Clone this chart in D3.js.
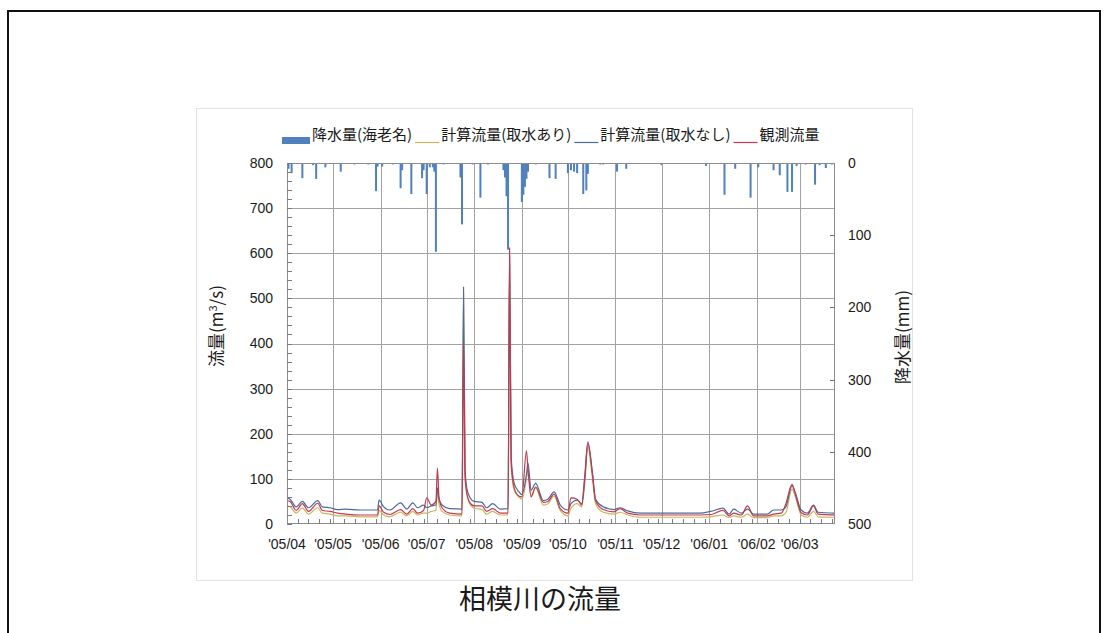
<!DOCTYPE html>
<html>
<head>
<meta charset="utf-8">
<script src="https://cdn.jsdelivr.net/npm/d3@7"></script>
<style>
  html, body { margin: 0; padding: 0; background: #fff; }
  svg { display: block; }
  text { font-family: "Liberation Sans", Arial, "Noto Sans CJK JP", sans-serif; fill: #1a1a1a; }
  .jp { font-family: "Noto Sans CJK JP", "Liberation Sans", sans-serif; }
</style>
</head>
<body>
<svg id="chart" width="1108" height="633"></svg>
<script>
// Daily rainfall at Ebina (mm), only days with rain shown
const rainDates = [
  "2005-04-02","2005-04-04","2005-04-11","2005-04-18","2005-04-20","2005-04-26",
  "2005-05-06","2005-05-15","2005-05-24","2005-05-29","2005-05-30",
  "2005-06-02","2005-06-09","2005-06-14","2005-06-15","2005-06-21","2005-06-28","2005-06-29",
  "2005-07-01","2005-07-03","2005-07-05","2005-07-06","2005-07-07","2005-07-12","2005-07-23","2005-07-24","2005-07-31",
  "2005-08-05","2005-08-10","2005-08-20","2005-08-21","2005-08-22","2005-08-23",
  "2005-09-01","2005-09-02","2005-09-03","2005-09-04","2005-09-05","2005-09-10","2005-09-19","2005-09-23",
  "2005-10-01","2005-10-03","2005-10-05","2005-10-07","2005-10-11","2005-10-13","2005-10-14","2005-10-22","2005-10-24",
  "2005-11-02","2005-11-08","2005-12-01","2005-12-30",
  "2006-01-11","2006-01-18","2006-01-28",
  "2006-02-02","2006-02-12","2006-02-16","2006-02-21","2006-02-24","2006-02-27",
  "2006-03-05","2006-03-11","2006-03-14","2006-03-18","2006-03-22"
];
const rainValues = [
  8, 14, 21, 3, 22, 6,
  12, 2, 2, 39, 5,
  5, 2, 35, 10, 43, 21, 10,
  43, 6, 6, 12, 123, 2, 20, 85, 2,
  48, 2, 10, 20, 46, 120,
  54, 44, 33, 22, 12, 2, 21, 22,
  14, 10, 12, 14, 43, 38, 15, 2, 2,
  12, 8, 3, 4,
  44, 8, 48,
  6, 10, 17, 40, 40, 4,
  2, 30, 3, 7, 2
];

// River discharge of the Sagami (m3/s)
const flowDates = [
  "2005-04-01","2005-04-03","2005-04-07","2005-04-11","2005-04-15","2005-04-21","2005-04-24","2005-04-29",
  "2005-05-04","2005-05-09","2005-05-19","2005-05-30","2005-05-31",
  "2005-06-03","2005-06-07","2005-06-14","2005-06-18","2005-06-22","2005-06-25","2005-06-29",
  "2005-07-01","2005-07-04","2005-07-07","2005-07-08","2005-07-09","2005-07-11","2005-07-16","2005-07-24","2005-07-25","2005-07-26","2005-07-27","2005-07-29",
  "2005-08-01","2005-08-06","2005-08-09","2005-08-13","2005-08-18","2005-08-23","2005-08-24","2005-08-25","2005-08-27","2005-08-30",
  "2005-09-01","2005-09-04","2005-09-05","2005-09-07","2005-09-10","2005-09-15","2005-09-18","2005-09-22","2005-09-26",
  "2005-10-01","2005-10-03","2005-10-07","2005-10-10","2005-10-12","2005-10-14","2005-10-17","2005-10-19","2005-10-24","2005-10-31",
  "2005-11-04","2005-11-09","2005-11-17","2005-12-26",
  "2006-01-02","2006-01-10","2006-01-14","2006-01-17","2006-01-22","2006-01-26","2006-01-30",
  "2006-02-08","2006-02-12","2006-02-17","2006-02-20","2006-02-24","2006-02-26",
  "2006-03-02","2006-03-06","2006-03-10","2006-03-13","2006-03-24"
];
// computed flow, with water intake
const flowWithIntake = [
  40, 38, 24, 35, 22, 36, 24, 22,
  18, 18, 16, 16, 30,
  20, 16, 26, 18, 28, 20, 24,
  24, 28, 30, 72, 45, 28, 20, 18, 510, 110, 68, 45,
  35, 32, 22, 28, 20, 20, 575, 130, 75, 60,
  55, 100, 125, 62, 80, 42, 45, 62, 30,
  18, 35, 45, 38, 90, 170, 100, 45, 26, 22,
  26, 20, 15, 15,
  16, 20, 14, 18, 15, 22, 14,
  14, 18, 18, 25, 78, 62,
  20, 15, 28, 16, 15
];
// computed flow, without water intake
const flowNoIntake = [
  58, 55, 38, 50, 36, 52, 38, 36,
  32, 33, 31, 31, 53,
  38, 31, 47, 33, 47, 36, 42,
  36, 40, 42, 80, 55, 42, 34, 33, 525, 125, 82, 60,
  50, 48, 36, 45, 33, 34, 595, 150, 90, 72,
  65, 110, 135, 75, 90, 52, 55, 71, 42,
  31, 45, 53, 45, 100, 178, 113, 55, 38, 32,
  36, 29, 24, 24,
  28, 35, 22, 33, 24, 33, 22,
  22, 31, 31, 38, 85, 71,
  31, 24, 42, 26, 24
];
// observed flow
const flowObserved = [
  52, 50, 30, 45, 28, 46, 30, 28,
  24, 22, 20, 20, 40,
  26, 21, 32, 22, 34, 24, 30,
  58, 42, 50, 124, 60, 36, 24, 22, 400, 105, 72, 48,
  40, 40, 28, 34, 24, 24, 612, 140, 80, 62,
  60, 162, 120, 60, 82, 48, 50, 66, 34,
  24, 58, 55, 42, 108, 182, 110, 52, 32, 27,
  34, 24, 20, 20,
  21, 30, 18, 24, 20, 40, 18,
  18, 22, 24, 45, 88, 68,
  25, 20, 40, 22, 20
];

const flowTicks = [0, 100, 200, 300, 400, 500, 600, 700, 800];
const rainTicks = [0, 100, 200, 300, 400, 500];
const monthTicks = ["2005-04-01","2005-05-01","2005-06-01","2005-07-01","2005-08-01","2005-09-01",
                    "2005-10-01","2005-11-01","2005-12-01","2006-01-01","2006-02-01","2006-03-01"];
const monthLabels = ["'05/04","'05/05","'05/06","'05/07","'05/08","'05/09",
                     "'05/10","'05/11","'05/12","'06/01","'06/02","'06/03"];

const legendItems = [
  { key: "rain", label: "降水量(海老名)" },
  { key: "with", label: "計算流量(取水あり)" },
  { key: "without", label: "計算流量(取水なし)" },
  { key: "obs", label: "観測流量" }
];

const colors = { rain: "#4f81bd", with: "#cdb45e", without: "#4a6b9c", obs: "#c23a4e" };

const parse = d3.timeParse("%Y-%m-%d");
const svg = d3.select("#chart");

// frame around the page and the chart panel
svg.append("rect").attr("x", 8).attr("y", 11).attr("width", 1092).attr("height", 640)
  .attr("fill", "none").attr("stroke", "#111").attr("stroke-width", 2);
svg.append("rect").attr("x", 196.5).attr("y", 108.5).attr("width", 716).attr("height", 472)
  .attr("fill", "#fff").attr("stroke", "#e2e2e2").attr("stroke-width", 1);

const plot = { left: 287, right: 835, top: 163, bottom: 524 };

const x = d3.scaleTime()
  .domain([parse("2005-04-01"), parse("2006-03-24")])
  .range([plot.left, plot.right]);
const yFlow = d3.scaleLinear().domain([0, 800]).range([plot.bottom, plot.top]);
const yRain = d3.scaleLinear().domain([0, 500]).range([plot.top, plot.bottom]);

// gridlines
const grid = svg.append("g");
grid.selectAll("line.h").data(flowTicks.slice(1, -1)).join("line")
  .attr("x1", plot.left).attr("x2", plot.right)
  .attr("y1", d => Math.round(yFlow(d)) + 0.5).attr("y2", d => Math.round(yFlow(d)) + 0.5)
  .attr("stroke", "#a3a3a3").attr("stroke-width", 1);
grid.selectAll("line.v").data(monthTicks.slice(1)).join("line")
  .attr("x1", d => Math.round(x(parse(d))) + 0.5).attr("x2", d => Math.round(x(parse(d))) + 0.5)
  .attr("y1", plot.top).attr("y2", plot.bottom)
  .attr("stroke", "#a3a3a3").attr("stroke-width", 1);

// clip for data marks
svg.append("clipPath").attr("id", "plotClip").append("rect")
  .attr("x", plot.left).attr("y", plot.top)
  .attr("width", plot.right - plot.left).attr("height", plot.bottom - plot.top);

// rainfall bars hanging from the top
const dayW = x(parse("2005-04-02")) - x(parse("2005-04-01"));
svg.append("g").attr("clip-path", "url(#plotClip)")
  .selectAll("rect").data(rainDates.map((d, i) => ({ date: parse(d), v: rainValues[i] }))).join("rect")
  .attr("x", d => x(d.date) - 1)
  .attr("y", plot.top)
  .attr("width", Math.max(2, dayW))
  .attr("height", d => yRain(d.v) - plot.top)
  .attr("fill", colors.rain);

// flow lines
const line = d3.line().x(d => x(d.date)).y(d => yFlow(d.v)).curve(d3.curveMonotoneX);
const series = [
  { key: "with", values: flowWithIntake },
  { key: "without", values: flowNoIntake },
  { key: "obs", values: flowObserved }
];
const lines = svg.append("g").attr("clip-path", "url(#plotClip)");
series.forEach(s => {
  lines.append("path")
    .datum(flowDates.map((d, i) => ({ date: parse(d), v: s.values[i] })))
    .attr("d", line)
    .attr("fill", "none")
    .attr("stroke", colors[s.key])
    .attr("stroke-width", 1.2)
    .attr("stroke-linejoin", "round");
});

// plot frame
svg.append("rect").attr("x", plot.left + 0.5).attr("y", plot.top + 0.5)
  .attr("width", plot.right - plot.left - 1).attr("height", plot.bottom - plot.top - 1)
  .attr("fill", "none").attr("stroke", "#8c8c8c").attr("stroke-width", 1);

// left axis: labels and inward minor ticks
const yAxisL = svg.append("g");
yAxisL.selectAll("line").data(d3.range(0, 801, 20)).join("line")
  .attr("x1", plot.left).attr("x2", plot.left + 5)
  .attr("y1", d => Math.round(yFlow(d)) + 0.5).attr("y2", d => Math.round(yFlow(d)) + 0.5)
  .attr("stroke", "#7a7a7a");
yAxisL.selectAll("text").data(flowTicks).join("text")
  .attr("x", 273).attr("y", d => yFlow(d)).attr("dy", "0.35em")
  .attr("text-anchor", "end").attr("font-size", 14).text(d => d);

// right axis
const yAxisR = svg.append("g");
yAxisR.selectAll("line").data(rainTicks.slice(1, -1)).join("line")
  .attr("x1", plot.right - 5).attr("x2", plot.right)
  .attr("y1", d => Math.round(yRain(d)) + 0.5).attr("y2", d => Math.round(yRain(d)) + 0.5)
  .attr("stroke", "#7a7a7a");
yAxisR.selectAll("text").data(rainTicks).join("text")
  .attr("x", 848).attr("y", d => yRain(d)).attr("dy", "0.35em")
  .attr("text-anchor", "start").attr("font-size", 14).text(d => d);

// bottom axis: weekly minor ticks and month labels
const minor = [];
monthTicks.forEach(m => { [7, 14, 21, 28].forEach(k => minor.push(d3.timeDay.offset(parse(m), k))); });
const xAxis = svg.append("g");
xAxis.selectAll("line").data(minor.filter(d => x(d) < plot.right - 2)).join("line")
  .attr("x1", d => Math.round(x(d)) + 0.5).attr("x2", d => Math.round(x(d)) + 0.5)
  .attr("y1", plot.bottom - 5).attr("y2", plot.bottom)
  .attr("stroke", "#7a7a7a");
xAxis.selectAll("text").data(monthTicks).join("text")
  .attr("x", d => x(parse(d))).attr("y", 549)
  .attr("text-anchor", "middle").attr("font-size", 14)
  .text((d, i) => monthLabels[i]);

// axis titles
svg.append("text").attr("class", "jp")
  .attr("transform", "translate(217,326) rotate(-90)")
  .attr("text-anchor", "middle").attr("dy", "0.35em").attr("font-size", 17)
  .html("流量(m<tspan dy='-6' font-size='11'>3</tspan><tspan dy='6'>/s)</tspan>");
svg.append("text").attr("class", "jp")
  .attr("transform", "translate(903,337) rotate(-90)")
  .attr("text-anchor", "middle").attr("dy", "0.35em").attr("font-size", 17)
  .text("降水量(mm)");

// legend, laid out left to right
const lg = svg.append("g");
let cursor = 282;
legendItems.forEach(item => {
  if (item.key === "rain") {
    lg.append("rect").attr("x", cursor).attr("y", 137).attr("width", 28).attr("height", 7).attr("fill", colors.rain);
    cursor += 30;
  } else {
    cursor += 3;
    lg.append("line").attr("x1", cursor).attr("x2", cursor + 24).attr("y1", 142.5).attr("y2", 142.5)
      .attr("stroke", colors[item.key]).attr("stroke-width", 1.2);
    cursor += 26;
  }
  const t = lg.append("text").attr("class", "jp").attr("x", cursor).attr("y", 135).attr("dy", "0.35em")
    .attr("font-size", 15).text(item.label);
  cursor += t.node().getComputedTextLength();
});

// caption
svg.append("text").attr("class", "jp")
  .attr("x", 540).attr("y", 600).attr("dy", "0.35em")
  .attr("text-anchor", "middle").attr("font-size", 27)
  .text("相模川の流量");
</script>
</body>
</html>
